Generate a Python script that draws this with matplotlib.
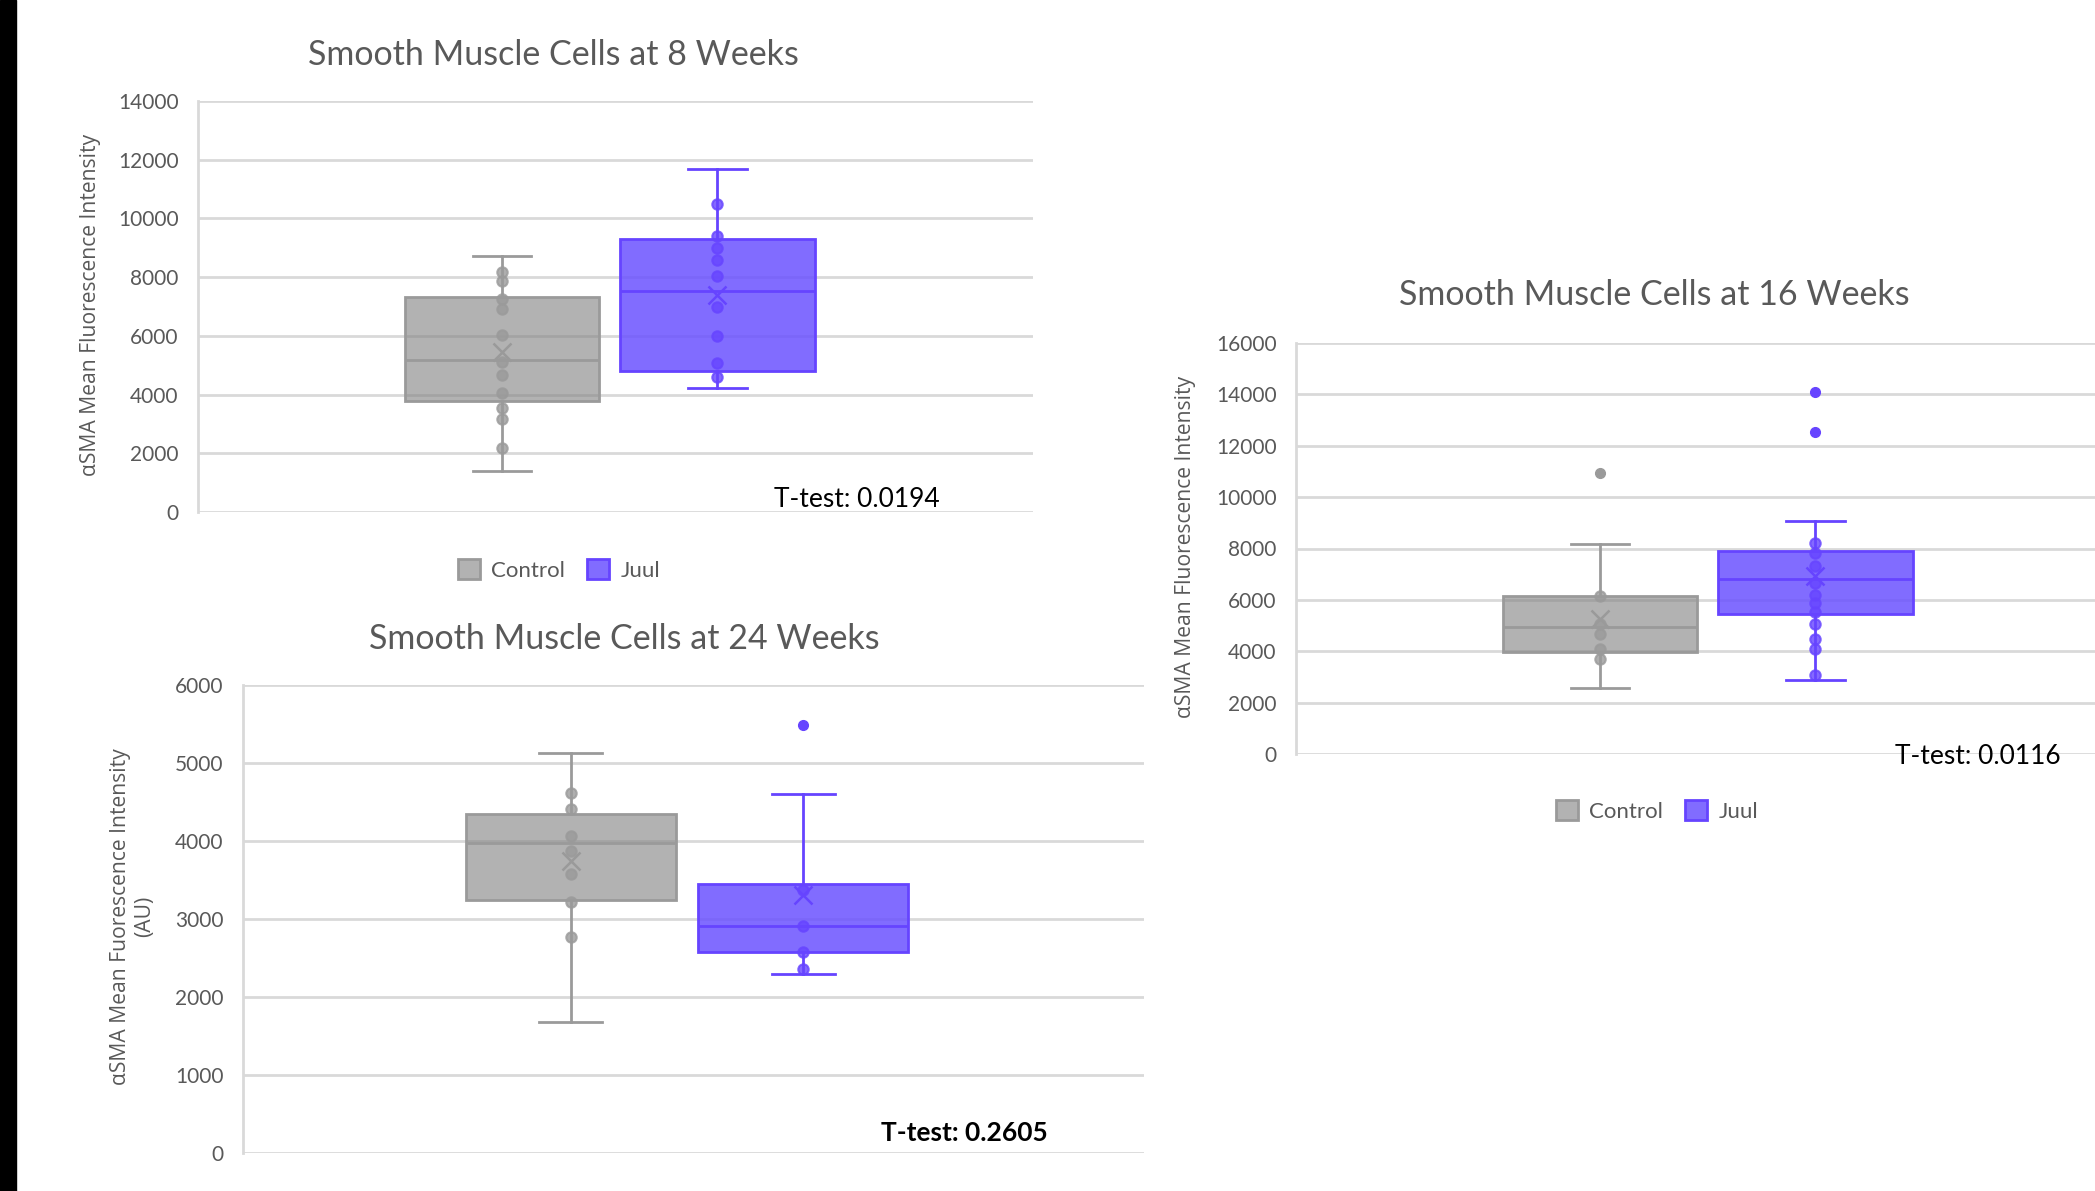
import numpy as np
import matplotlib.pyplot as plt
from matplotlib.patches import Patch, Rectangle

# ---- data ----
groups = ['Control', 'Juul']

# 8 weeks
w8_q1 = [3795, 4817]
w8_med = [5182, 7519]
w8_q3 = [7315, 9304]
w8_lo = [1400, 4238]
w8_hi = [8736, 11676]
w8_mean = [5441, 7407]
w8_ctrl_pts = [8190, 7860, 7247, 6906, 6044, 5114, 4658, 4058, 3557, 3182, 2184]
w8_juul_pts = [10497, 9393, 8985, 8589, 8031, 6974, 5986, 5090, 4603]
w8_ctrl_out = []
w8_juul_out = []

# 16 weeks
w16_q1 = [3972, 5462]
w16_med = [4957, 6811]
w16_q3 = [6150, 7901]
w16_lo = [2559, 2882]
w16_hi = [8173, 9068]
w16_mean = [5243, 6928]
w16_ctrl_pts = [6138, 5049, 4685, 4077, 3688]
w16_juul_pts = [8224, 7835, 7317, 6668, 6189, 5866, 5540, 5049, 4477, 4077, 3065]
w16_ctrl_out = [10935]
w16_juul_out = [14098, 12542]

# 24 weeks
w24_q1 = [3238, 2577]
w24_med = [3969, 2910]
w24_q3 = [4341, 3444]
w24_lo = [1679, 2290]
w24_hi = [5128, 4606]
w24_mean = [3738, 3303]
w24_ctrl_pts = [4615, 4410, 4068, 3872, 3581, 3218, 2769]
w24_juul_pts = [3372, 2910, 2577, 2354]
w24_ctrl_out = []
w24_juul_out = [5485]

fill_cols = [(0.5, 0.5, 0.5, 0.6), (0.42, 0.32, 1.0, 0.85)]
edge_cols = ['#9a9a9a', '#6644ff']
positions = [0.364, 0.622]
box_w = 0.233

plt.rcParams['font.family'] = ['Lato', 'DejaVu Sans']

fig = plt.figure(figsize=(20.95, 11.91), dpi=100)
fig.patches.append(Rectangle((0, 0), 16 / 2095, 1, transform=fig.transFigure,
                             color='black', zorder=10))


def draw_panel(rect, title, q1, med, q3, lo, hi, mean, pts, outs, ymax, ystep,
               ylabel, ttext, tpos, title_pos, ylab_x, bold=False, legend_y=None):
    ax = fig.add_axes(rect)
    ax.set_xlim(0, 1)
    ax.set_ylim(0, ymax)
    ax.set_yticks(np.arange(0, ymax + 1, ystep))
    ax.yaxis.grid(True, color='#d9d9d9', linewidth=2)
    ax.set_axisbelow(True)
    for s in ['top', 'right', 'bottom']:
        ax.spines[s].set_visible(False)
    ax.spines['left'].set_color('#d9d9d9')
    ax.spines['left'].set_linewidth(2)
    ax.tick_params(axis='y', length=0, pad=14, labelsize=15, labelcolor='#595959')
    ax.set_xticks([])

    for i in range(2):
        stats = [dict(q1=q1[i], med=med[i], q3=q3[i], whislo=lo[i], whishi=hi[i],
                      mean=mean[i], fliers=outs[i])]
        ax.bxp(stats, positions=[positions[i]], widths=box_w, patch_artist=True,
               showmeans=True, capwidths=box_w * 0.3, manage_ticks=False,
               boxprops=dict(facecolor=fill_cols[i], edgecolor=edge_cols[i], linewidth=2),
               medianprops=dict(color=edge_cols[i], linewidth=2),
               whiskerprops=dict(color=edge_cols[i], linewidth=2),
               capprops=dict(color=edge_cols[i], linewidth=2),
               meanprops=dict(marker='x', markeredgecolor=edge_cols[i], markersize=13,
                              markeredgewidth=1.8),
               flierprops=dict(marker='o', markerfacecolor=edge_cols[i],
                               markeredgecolor=edge_cols[i], markersize=7))
        ax.plot([positions[i]] * len(pts[i]), pts[i], 'o', color=edge_cols[i],
                markersize=7.5, markerfacecolor=edge_cols[i], alpha=0.8,
                markeredgewidth=1.5, zorder=5)

    ax.text(title_pos[0], title_pos[1], title, transform=ax.transAxes, ha='center',
            va='center', fontsize=24.5, color='#595959')
    ax.text(ylab_x, 0.505, ylabel, transform=ax.transAxes, rotation=90, ha='center',
            va='center', fontsize=15.2, color='#595959', family=['Open Sans', 'DejaVu Sans'],
            linespacing=1.2)
    ax.text(tpos[0], tpos[1], ttext, transform=ax.transAxes, ha='center', va='center',
            fontsize=19, color='black', fontweight='bold' if bold else 'normal')
    if legend_y is not None:
        handles = [Patch(facecolor=fill_cols[k], edgecolor=edge_cols[k], linewidth=2,
                         label=groups[k]) for k in range(2)]
        ax.legend(handles=handles, loc='center', bbox_to_anchor=(0.432, legend_y),
                  ncol=2, frameon=False, fontsize=16, labelcolor='#595959',
                  handlelength=1.0, handleheight=1.0, columnspacing=1.0,
                  handletextpad=0.5)
    return ax


draw_panel([198 / 2095, 1 - 512 / 1191, 835 / 2095, 411 / 1191],
           'Smooth Muscle Cells at 8 Weeks', w8_q1, w8_med, w8_q3, w8_lo, w8_hi,
           w8_mean, [w8_ctrl_pts, w8_juul_pts], [w8_ctrl_out, w8_juul_out],
           14000, 2000, 'αSMA Mean Fluorescence Intensity', 'T-test: 0.0194',
           (0.789, 0.03), (0.426, 1.112), -0.129, legend_y=-0.141)

draw_panel([1296 / 2095, 1 - 754 / 1191, 835 / 2095, 411 / 1191],
           'Smooth Muscle Cells at 16 Weeks', w16_q1, w16_med, w16_q3, w16_lo, w16_hi,
           w16_mean, [w16_ctrl_pts, w16_juul_pts], [w16_ctrl_out, w16_juul_out],
           16000, 2000, 'αSMA Mean Fluorescence Intensity', 'T-test: 0.0116',
           (0.816, -0.005), (0.429, 1.117), -0.132, legend_y=-0.139)

draw_panel([243 / 2095, 1 - 1153 / 1191, 901 / 2095, 468 / 1191],
           'Smooth Muscle Cells at 24 Weeks', w24_q1, w24_med, w24_q3, w24_lo, w24_hi,
           w24_mean, [w24_ctrl_pts, w24_juul_pts], [w24_ctrl_out, w24_juul_out],
           6000, 1000, 'αSMA Mean Fuorescence Intensity\n(AU)', 'T-test: 0.2605',
           (0.801, 0.043), (0.423, 1.098), -0.123, bold=True)

fig.savefig('out.png', dpi=100)
